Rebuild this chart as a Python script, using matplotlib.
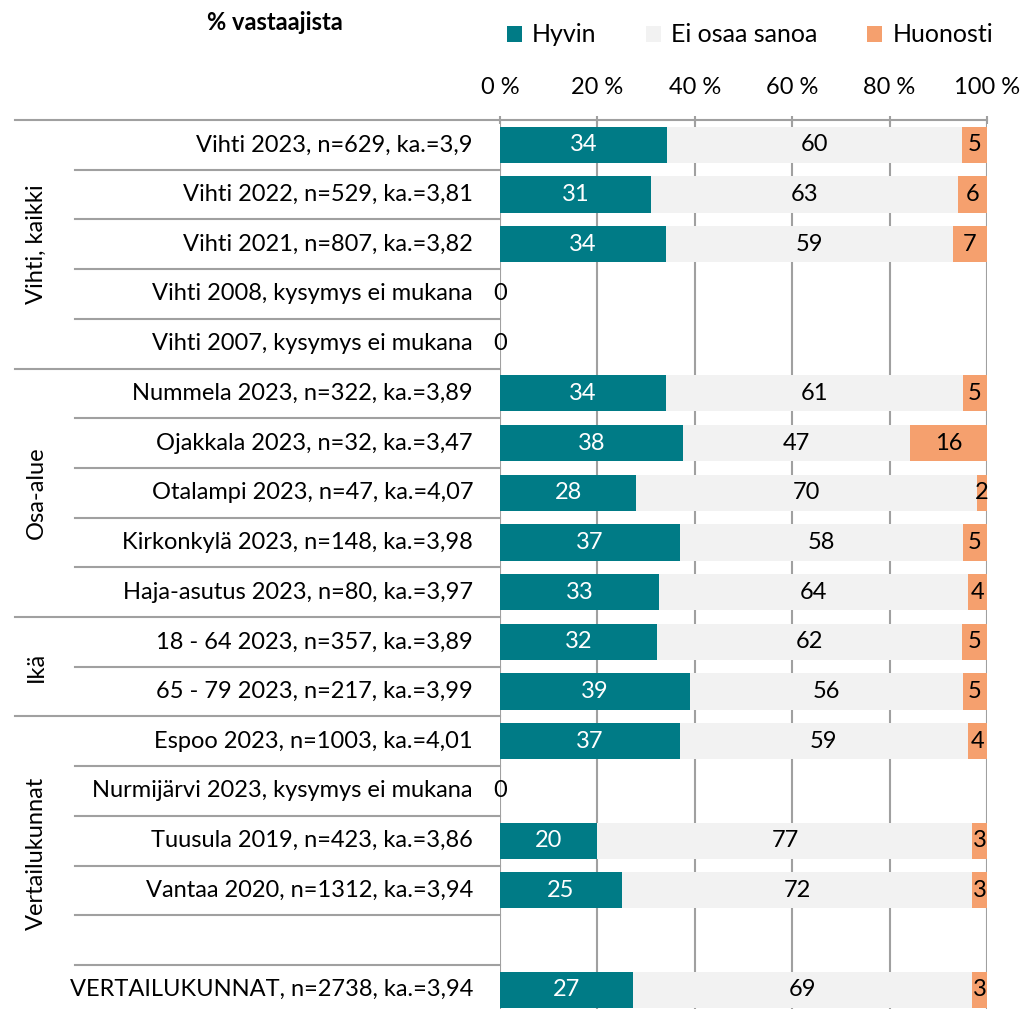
import numpy as np
import matplotlib
matplotlib.use("Agg")
import matplotlib.pyplot as plt
from matplotlib.patches import Patch
from matplotlib.transforms import blended_transform_factory

plt.rcParams['font.family'] = ['Lato', 'DejaVu Sans']

# rows top to bottom, "" = empty spacer row
labels = [
    "Vihti 2023, n=629, ka.=3,9",
    "Vihti 2022, n=529, ka.=3,81",
    "Vihti 2021, n=807, ka.=3,82",
    "Vihti 2008, kysymys ei mukana",
    "Vihti 2007, kysymys ei mukana",
    "Nummela 2023, n=322, ka.=3,89",
    "Ojakkala 2023, n=32, ka.=3,47",
    "Otalampi 2023, n=47, ka.=4,07",
    "Kirkonkylä 2023, n=148, ka.=3,98",
    "Haja-asutus 2023, n=80, ka.=3,97",
    "18 - 64 2023, n=357, ka.=3,89",
    "65 - 79 2023, n=217, ka.=3,99",
    "Espoo 2023, n=1003, ka.=4,01",
    "Nurmijärvi 2023, kysymys ei mukana",
    "Tuusula 2019, n=423, ka.=3,86",
    "Vantaa 2020, n=1312, ka.=3,94",
    "",
    "VERTAILUKUNNAT, n=2738, ka.=3,94",
]
hyvin    = [34, 31, 34, 0, 0, 34, 38, 28, 37, 33, 32, 39, 37, 0, 20, 25, None, 27]
ei_osaa  = [60, 63, 59, 0, 0, 61, 47, 70, 58, 64, 62, 56, 59, 0, 77, 72, None, 69]
huonosti = [5, 6, 7, 0, 0, 5, 16, 2, 5, 4, 5, 5, 4, 0, 3, 3, None, 3]

series_names = ["Hyvin", "Ei osaa sanoa", "Huonosti"]
colors = ["#007B86", "#F2F2F2", "#F5A06E"]
text_colors = ["white", "black", "black"]

# groups: (label, first row, last row, label centre in row units)
groups = [("Vihti, kaikki", 0, 4, 2.0),
          ("Osa-alue", 5, 9, 7.0),
          ("Ikä", 10, 11, 10.5),
          ("Vertailukunnat", 12, 17, 14.25)]

W, H = 1022, 1009
fig = plt.figure(figsize=(W / 100, H / 100), dpi=100)
row_px = 49.7
n = len(labels)
top_px = 120
bot_px = top_px + n * row_px
ax = fig.add_axes([500 / W, 1 - bot_px / H, 487 / W, n * row_px / H])

ax.set_xlim(0, 100)
ax.set_ylim(n - 0.5, -0.5)

fs = 17
grid_c = "#A0A0A0"
for x in [20, 40, 60, 80, 100]:
    ax.axvline(x, color=grid_c, lw=1.5, zorder=0)
ax.axvline(0, color=grid_c, lw=1.5, zorder=0)

y = np.arange(n)
data = np.array([[v if v is not None else 0 for v in s] for s in (hyvin, ei_osaa, huonosti)], dtype=float)
tot = data.sum(axis=0)
widths = np.where(tot > 0, data / np.where(tot > 0, tot, 1) * 100, 0)

left = np.zeros(n)
for k in range(3):
    ax.barh(y, widths[k], left=left, height=0.73, color=colors[k], zorder=2)
    for i in range(n):
        if widths[k][i] > 0:
            ax.text(left[i] + widths[k][i] / 2, i, f"{data[k][i]:.0f}",
                    ha="center", va="center", fontsize=fs, color=text_colors[k], zorder=3)
    left += widths[k]

# zero labels for rows without data
for i in range(n):
    if labels[i] and tot[i] == 0:
        ax.text(0, i, "0", ha="center", va="center", fontsize=fs, color="black", zorder=3)

for sp in ["left", "right", "bottom"]:
    ax.spines[sp].set_visible(False)
ax.spines["top"].set_color(grid_c)
ax.spines["top"].set_linewidth(1.5)
ax.xaxis.tick_top()
ax.set_xticks([0, 20, 40, 60, 80, 100])
ax.set_xticklabels([f"{v} %" for v in [0, 20, 40, 60, 80, 100]], fontsize=fs)
ax.tick_params(axis="x", length=6, width=1.5, color=grid_c, direction="inout", pad=13)
ax.set_yticks([])

tr = blended_transform_factory(ax.transAxes, ax.transData)
px = lambda xp: (xp - 500) / 487

# row labels
for i, lab in enumerate(labels):
    if lab:
        ax.text(px(473), i, lab, transform=tr, ha="right", va="center", fontsize=fs)

# separator lines
group_starts = {g[1] for g in groups}
for b in range(n):
    xs = px(15) if b in group_starts else px(75)
    ax.plot([xs, 0], [b - 0.5, b - 0.5], transform=tr, color=grid_c, lw=1.5,
            clip_on=False, zorder=1)

# group labels
for name, a, b, c in groups:
    ax.text(px(36), c, name, transform=tr, rotation=90, ha="center", va="center", fontsize=fs)

fig.text(275 / W, 1 - 22 / H, "% vastaajista", ha="center", va="center",
         fontsize=17, fontweight="bold")

handles = [Patch(facecolor=c, edgecolor="none") for c in colors]
fig.legend(handles, series_names, loc="center left", bbox_to_anchor=(494 / W, 1 - 35 / H),
           ncol=3, frameon=False, fontsize=18, handlelength=0.6, handleheight=0.6,
           handletextpad=0.4, columnspacing=2.0, borderpad=0)

fig.savefig("out.png", dpi=100)
